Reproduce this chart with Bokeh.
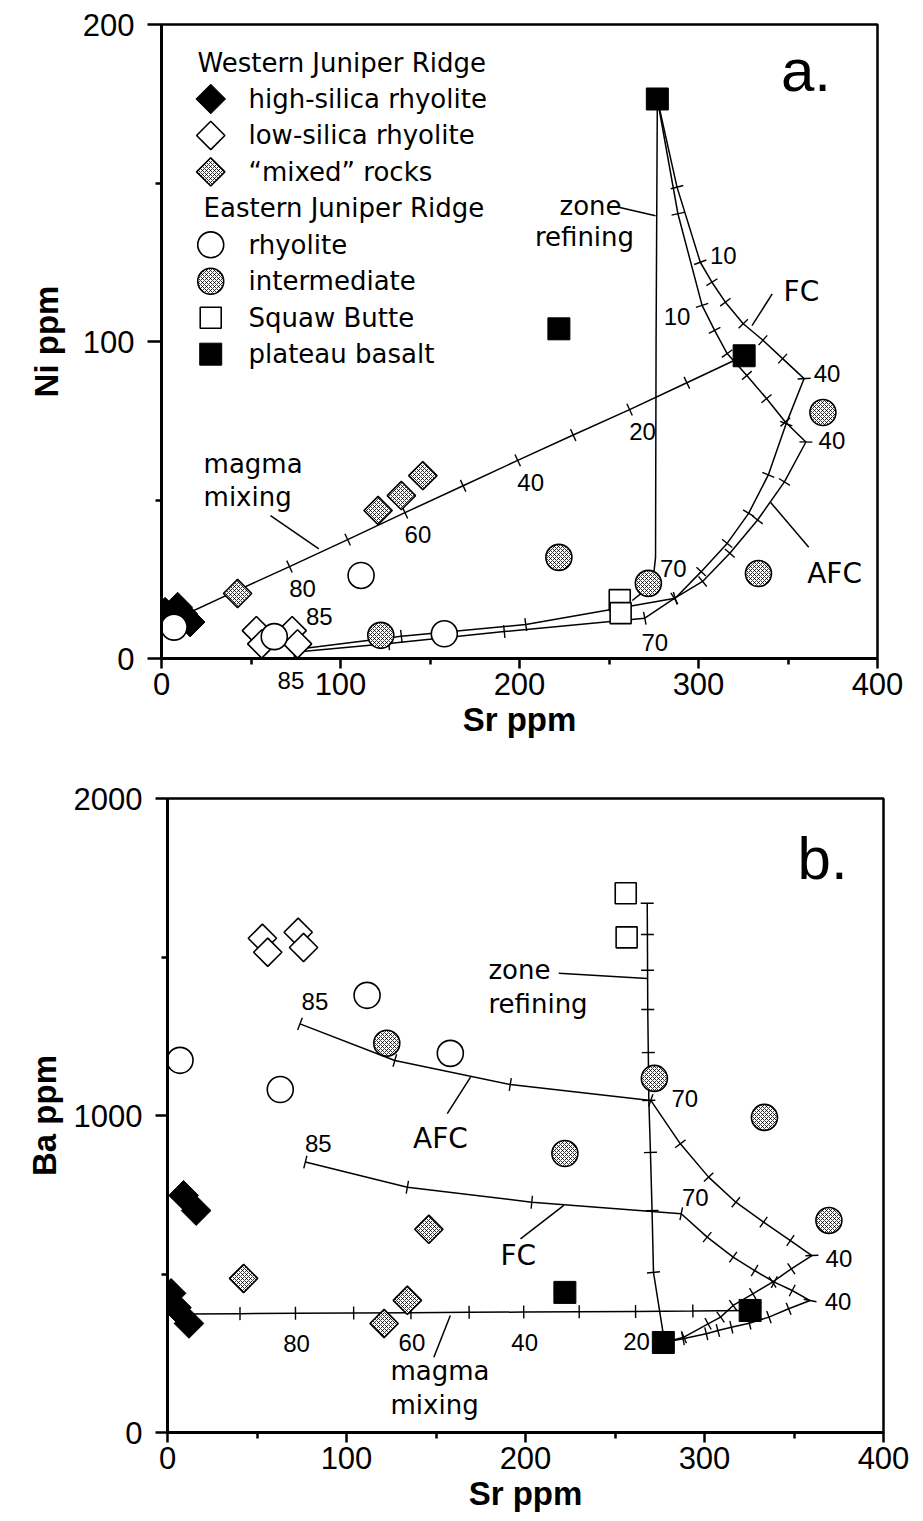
import math
from bokeh.plotting import figure
from bokeh.models import Range1d, FixedTicker, Label
from bokeh.core.properties import value
from bokeh.embed import file_html
from bokeh.resources import INLINE

# ---------------- analyses (ppm) ----------------
# Western Juniper Ridge
hs_sr = [2, 5, 9, 12, 16]                  # high-silica rhyolite
hs_ni = [14.6, 13, 16.2, 14, 11.5]
hs_ba = [439, 394, 748, 344, 700]

ls_sr = [53, 56, 73, 76]                   # low-silica rhyolite
ls_ni = [8.8, 4.6, 8.8, 4.6]
ls_ba = [1559, 1515, 1578, 1530]

mx_sr = [42.5, 121, 134, 146]              # "mixed" rocks
mx_ni = [20.5, 46.7, 51.4, 57.7]
mx_ba = [486, 344, 417, 641]

# Eastern Juniper Ridge
rh_sr = [7, 63, 111.5, 158]                # rhyolite
rh_ni = [9.9, 6.9, 26.2, 7.8]
rh_ba = [1174, 1082, 1379, 1196]

im_sr = [122.5, 222, 272, 333.5, 369.5]    # intermediate
im_ni = [7.3, 31.9, 23.7, 26.8, 77.6]
im_ba = [1228, 880, 1117, 994, 669]

sq_sr = [256, 256.5]                       # Squaw Butte
sq_ni = [18.4, 14.3]
sq_ba = [1701, 1562]

pb_sr = [222, 277, 325.5]                  # plateau basalt
pb_ni = [104, 176.5, 95.5]
pb_ba = [442, 284, 385]

# ---------------- model curves ----------------
# crystallization steps, % crystallized
xtal_pct = [0, 5, 10, 15, 20, 25, 30, 35, 40, 45, 50, 55, 60, 65, 70, 75, 80, 85]

fc_sr = [277, 288, 301, 307.5, 315, 325, 336, 347, 359, 349, 339, 328, 316, 301.5, 287, 203.5, 134, 77]
fc_ni = [176.5, 148.7, 125, 118.7, 112.4, 105.6, 100.4, 94.6, 88.3, 74.1, 57.9, 45.8, 36.3, 27.4, 19, 10.7, 7, 3]
fc_ba = [284, 295.6, 311.4, 321.7, 332.3, 344.9, 364, 390.2, 416.3, 448, 474.3, 511, 553.2, 616.3, 690.1, 726.4, 773.7, 853.2]

afc_sr = [277, 288.5, 302, 309, 316, 327, 338, 348.5, 360, 348, 333, 317.5, 302.3, 286.5, 270, 191.5, 127, 74]
afc_ni = [176.5, 140.3, 111.4, 103.5, 96.2, 89.3, 82, 74.6, 68.3, 55.7, 43.7, 33.2, 24.3, 19, 12.7, 8.5, 4.7, 2]
afc_ba = [284, 300.6, 342.9, 364, 400.7, 437.5, 474.3, 516.5, 558.3, 605.6, 663.7, 726.4, 805.6, 910.6, 1047.5, 1097.8, 1173.3, 1289]

# magma mixing, % rhyolite
mix_pct = [100, 90, 80, 70, 60, 50, 40, 30, 20, 10, 0]
mix_sr = [10, 40.5, 71.5, 104, 136, 168.5, 199, 230, 261.5, 293.5, 325.5]
mix_ni = [13, 21, 29, 37.5, 46, 54.5, 62.5, 70.5, 78.5, 87, 95.5]
mix_ba = [374, 375, 376, 377, 378, 379, 380, 381, 382, 383, 385]

# zone refining
zra_sr = [277, 276.3, 276, 275, 271.3, 266.6, 263]
zra_ni = [176.5, 100, 31.9, 26.7, 22, 19.9, 18.3]
zrb_sr = [277.7, 271.5, 270.7, 269.8, 268.9, 268.6, 268.3, 268.2, 268.1, 268]
zrb_ba = [284, 505, 700, 883.4, 1047.5, 1198.5, 1334.4, 1458.3, 1571, 1669.6]

# ---------------- styling ----------------
FW, FH = 716, 634
WORD_FONT = "DejaVu Sans"
NUM_FONT = "Liberation Sans"
HATCH = dict(fill_color="white", hatch_pattern="x", hatch_scale=4, hatch_weight=0.8, hatch_color="black")
STYLES = {
    "hs": dict(marker="square", angle=math.pi / 4, size=21, fill_color="black", line_color="black"),
    "ls": dict(marker="square", angle=math.pi / 4, size=20, fill_color="white", line_color="black", line_width=1.6),
    "mx": dict(marker="square", angle=math.pi / 4, size=20, line_color="black", line_width=1.6, **HATCH),
    "rh": dict(marker="circle", size=26, fill_color="white", line_color="black", line_width=1.6),
    "im": dict(marker="circle", size=26, line_color="black", line_width=1.6, **HATCH),
    "sq": dict(marker="square", size=21, fill_color="white", line_color="black", line_width=1.6),
    "pb": dict(marker="square", size=22, fill_color="black", line_color="black"),
}


def make_panel(ymax, ymajor, yminor, left, top, right, bottom, ylabel, y_tick_out, y_standoff, y_title_standoff):
    p = figure(frame_width=FW, frame_height=FH, x_range=Range1d(0, 400), y_range=Range1d(0, ymax),
               min_border_left=left, min_border_top=top, min_border_right=right, min_border_bottom=bottom,
               output_backend="svg", toolbar_location=None,
               background_fill_color="white", border_fill_color="white")
    p.grid.visible = False
    p.outline_line_color = "black"
    p.outline_line_width = 2.5
    p.xaxis.ticker = FixedTicker(ticks=[0, 100, 200, 300, 400], minor_ticks=[50, 150, 250, 350])
    p.yaxis.ticker = FixedTicker(ticks=ymajor, minor_ticks=yminor)
    for ax in (p.xaxis, p.yaxis):
        ax.axis_line_width = 3
        ax.major_tick_line_width = 2.5
        ax.minor_tick_line_width = 2.5
        ax.major_tick_in = 0
        ax.minor_tick_in = 0
        ax.minor_tick_out = 6
        ax.major_label_text_font = NUM_FONT
        ax.major_label_text_font_size = "31px"
        ax.major_label_text_color = "black"
        ax.axis_label_text_font = NUM_FONT
        ax.axis_label_text_font_style = "bold"
        ax.axis_label_text_font_size = "33px"
        ax.axis_label_text_color = "black"
    p.xaxis.axis_label = "Sr ppm"
    p.xaxis.major_tick_out = 10
    p.xaxis.major_label_standoff = 4
    p.xaxis.axis_label_standoff = 3
    p.yaxis.axis_label = ylabel
    p.yaxis.major_tick_out = y_tick_out
    p.yaxis.major_label_standoff = y_standoff
    p.yaxis.axis_label_standoff = y_title_standoff
    return p


def curve(p, xs, ys, sx, sy, ticks=True, first=1, last=None):
    p.line(xs, ys, line_color="black", line_width=1.5)
    if not ticks:
        return
    n = len(xs)
    ang = []
    for i in range(n):
        a, b = max(i - 1, 0), min(i + 1, n - 1)
        ang.append(math.atan2((ys[b] - ys[a]) * sy, (xs[b] - xs[a]) * sx) + math.pi / 2)
    stop = n if last is None else last
    p.scatter(xs[first:stop], ys[first:stop], marker="dash", size=13, angle=ang[first:stop],
              line_color="black", line_width=1.4)


def words(p, xs, ys, texts, size="26px", align="center"):
    p.text(x=xs, y=ys, text=texts, text_font=value(WORD_FONT), text_font_size=size,
           text_align=align, text_baseline="middle", text_color="black")


def number(p, x, y, text, dx, dy):
    p.text(x=[x], y=[y], text=[text], x_offset=dx, y_offset=dy, text_font=value(NUM_FONT),
           text_font_size="24px", text_align="center", text_baseline="middle", text_color="black")


def leaders(p, x0, y0, x1, y1):
    p.segment(x0=x0, y0=y0, x1=x1, y1=y1, line_color="black", line_width=1.5)


def samples(p, groups):
    for key, xs, ys in groups:
        p.scatter(xs, ys, **STYLES[key])


# ================= panel a: Ni vs Sr =================
pa = make_panel(200, [0, 100, 200], [50, 150], 161, 24, 46, 110, "Ni ppm", 14, 13, 15)
sxa, sya = FW / 400, FH / 200

curve(pa, mix_sr, mix_ni, sxa, sya, last=len(mix_sr) - 1)
curve(pa, zra_sr, zra_ni, sxa, sya, ticks=False)
curve(pa, fc_sr, fc_ni, sxa, sya)
curve(pa, afc_sr, afc_ni, sxa, sya)

# leader lines for the model-curve names
leaders(pa, [253.6, 341.2, 361.6, 60.9], [142.6, 115, 35.1, 45.1],
        [276, 329.9, 340.2, 87.9], [139.7, 105, 49.3, 34.6])

words(pa, [239.7, 236.3], [142.9, 133.1], ["zone", "refining"])
words(pa, [357.5, 376], [115.8, 26.8], ["FC", "AFC"], size="28px")
words(pa, [23.5, 23.5], [61.5, 50.8], ["magma", "mixing"], align="left")

# crystallization labels
number(pa, fc_sr[2], fc_ni[2], str(xtal_pct[2]), 23, -7)
number(pa, afc_sr[2], afc_ni[2], str(xtal_pct[2]), -25, 11)
number(pa, fc_sr[8], fc_ni[8], str(xtal_pct[8]), 23, -5)
number(pa, afc_sr[8], afc_ni[8], str(xtal_pct[8]), 26, -1)
number(pa, fc_sr[14], fc_ni[14], str(xtal_pct[14]), -2, -30)
number(pa, afc_sr[14], afc_ni[14], str(xtal_pct[14]), 10, 24)
number(pa, fc_sr[17], fc_ni[17], str(xtal_pct[17]), 20, -32)
# the AFC end label sits just under the Sr axis line; it is hosted by a side panel
# (so it is not clipped to the frame) while still being placed in data space
pa.add_layout(Label(x=afc_sr[17], y=afc_ni[17], x_offset=-3, y_offset=-28, text=str(xtal_pct[17]),
                    text_font=NUM_FONT, text_font_size="24px", text_align="center",
                    text_baseline="middle", text_color="black"), "right")
# mixing labels
for i in (2, 4, 6, 8):
    number(pa, mix_sr[i], mix_ni[i], str(mix_pct[i]), 13, 22)

samples(pa, [("mx", mx_sr, mx_ni), ("ls", ls_sr, ls_ni), ("hs", hs_sr, hs_ni),
             ("rh", rh_sr, rh_ni), ("im", im_sr, im_ni), ("sq", sq_sr, sq_ni), ("pb", pb_sr, pb_ni)])

# legend, laid out in data space down the upper-left corner
leg_top, leg_step = 188, 11.5
rows = [leg_top - i * leg_step for i in range(9)]
words(pa, [20.1], [rows[0]], ["Western Juniper Ridge"], align="left")
words(pa, [23.5], [rows[4]], ["Eastern Juniper Ridge"], align="left")
leg_items = [(1, "hs", "high-silica rhyolite"), (2, "ls", "low-silica rhyolite"),
             (3, "mx", "\u201cmixed\u201d rocks"), (5, "rh", "rhyolite"), (6, "im", "intermediate"),
             (7, "sq", "Squaw Butte"), (8, "pb", "plateau basalt")]
for r, key, label in leg_items:
    pa.scatter([27.5], [rows[r]], **STYLES[key])
    words(pa, [48.6], [rows[r]], [label], align="left")

pa.text(x=[360], y=[185.5], text=["a."], text_font=value(NUM_FONT), text_font_size="60px",
        text_align="center", text_baseline="middle", text_color="black")

# ================= panel b: Ba vs Sr =================
pb = make_panel(2000, [0, 1000, 2000], [500, 1500], 167, 30, 40, 89, "Ba ppm", 12, 13, 8)
sxb, syb = FW / 400, FH / 2000

curve(pb, mix_sr, mix_ba, sxb, syb, last=len(mix_sr) - 1)
curve(pb, zrb_sr, zrb_ba, sxb, syb)
curve(pb, fc_sr, fc_ba, sxb, syb)
curve(pb, afc_sr, afc_ba, sxb, syb)

leaders(pb, [218.6, 156.3, 197.2, 148.8], [1449, 1005.7, 611, 237.6],
        [268, 169.3, 221.4, 158], [1432, 1121, 716.3, 369])

words(pb, [179.3, 179.3], [1458, 1350.6], ["zone", "refining"], align="left")
words(pb, [152.5, 196], [927.7, 558.5], ["AFC", "FC"], size="28px")
words(pb, [124.6, 124.6], [192.5, 85.2], ["magma", "mixing"], align="left")

number(pb, afc_sr[17], afc_ba[17], str(xtal_pct[17]), 15, -22)
number(pb, fc_sr[17], fc_ba[17], str(xtal_pct[17]), 13, -19)
number(pb, afc_sr[14], afc_ba[14], str(xtal_pct[14]), 34, -2)
number(pb, fc_sr[14], fc_ba[14], str(xtal_pct[14]), 14, -16)
number(pb, afc_sr[8], afc_ba[8], str(xtal_pct[8]), 27, 3)
number(pb, fc_sr[8], fc_ba[8], str(xtal_pct[8]), 28, 1)
for i in (2, 4, 6, 8):
    number(pb, mix_sr[i], mix_ba[i], str(mix_pct[i]), 1, 30)

samples(pb, [("mx", mx_sr, mx_ba), ("ls", ls_sr, ls_ba), ("hs", hs_sr, hs_ba),
             ("rh", rh_sr, rh_ba), ("im", im_sr, im_ba), ("sq", sq_sr, sq_ba), ("pb", pb_sr, pb_ba)])

pb.text(x=[366], y=[1811], text=["b."], text_font=value(NUM_FONT), text_font_size="60px",
        text_align="center", text_baseline="middle", text_color="black")

# two independent roots stacked on the page, each with its own frame position
open("out.html", "w").write(file_html([pa, pb], INLINE))
